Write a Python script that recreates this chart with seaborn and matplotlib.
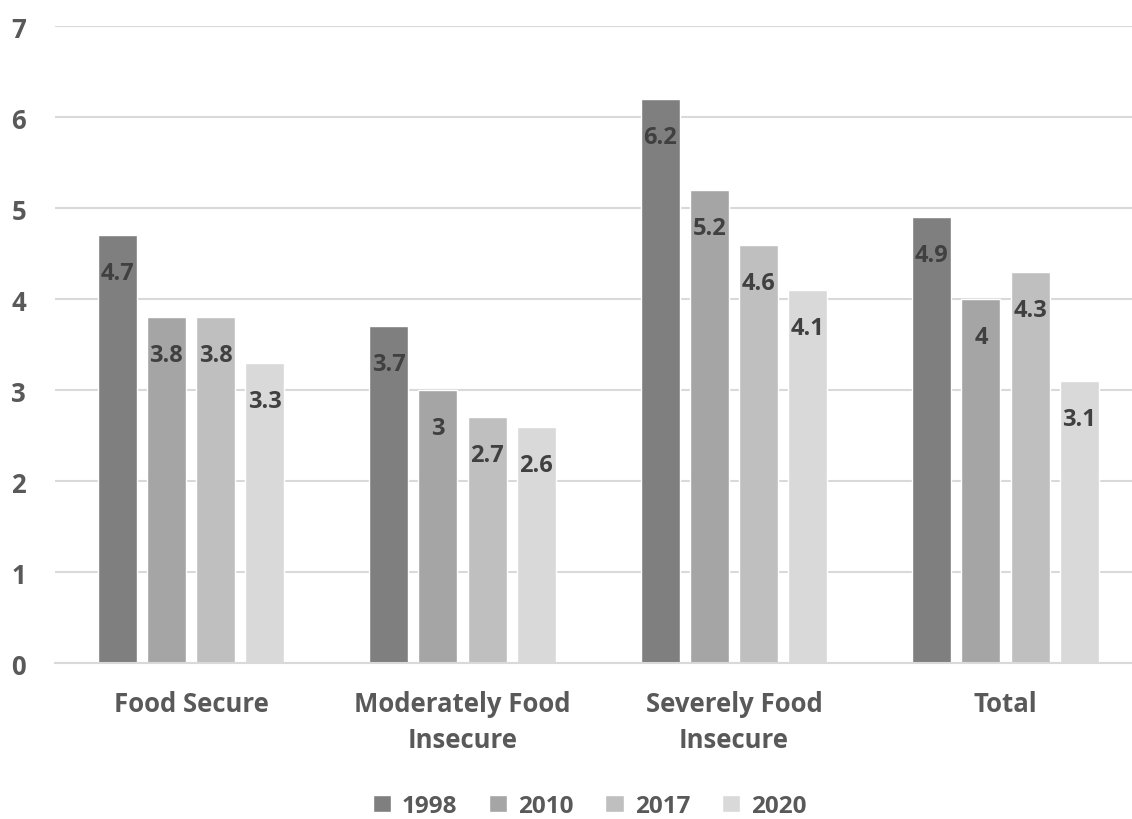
import matplotlib
matplotlib.use("Agg")
import matplotlib.pyplot as plt
import seaborn as sns
import pandas as pd

categories = ["Food Secure", "Moderately Food\nInsecure", "Severely Food\nInsecure", "Total"]
years = ["1998", "2010", "2017", "2020"]
values_1998 = [4.7, 3.7, 6.2, 4.9]
values_2010 = [3.8, 3.0, 5.2, 4.0]
values_2017 = [3.8, 2.7, 4.6, 4.3]
values_2020 = [3.3, 2.6, 4.1, 3.1]
value_labels = {
    "1998": ["4.7", "3.7", "6.2", "4.9"],
    "2010": ["3.8", "3", "5.2", "4"],
    "2017": ["3.8", "2.7", "4.6", "4.3"],
    "2020": ["3.3", "2.6", "4.1", "3.1"],
}
palette = ["#7f7f7f", "#a5a5a5", "#bfbfbf", "#d9d9d9"]

series = [values_1998, values_2010, values_2017, values_2020]
df = pd.DataFrame(
    [(c, y, v) for y, vals in zip(years, series) for c, v in zip(categories, vals)],
    columns=["category", "year", "value"],
)

sns.set_theme(style="white")
plt.rcParams["font.family"] = ["Open Sans", "DejaVu Sans"]

fig = plt.figure(figsize=(11.32, 8.2), dpi=100)
# plot area runs off the right edge so the gridlines reach the border
ax = fig.add_axes([0.0488, 0.190, 0.9594, 0.777])

sns.barplot(data=df, x="category", y="value", hue="year", palette=palette,
            width=0.725, gap=0.207, ax=ax, legend=True, saturation=1, errorbar=None)

for container, yr in zip(ax.containers, years):
    ax.bar_label(container, labels=value_labels[yr], padding=-36,
                 fontsize=17, fontweight="bold", color="#404040")

ax.set_ylim(0, 7)
ax.set_yticks(range(0, 8))
ax.set_xlim(-0.5, 3.5)
ax.yaxis.grid(True, color="#d9d9d9", linewidth=1.5)
ax.set_axisbelow(True)
for s in ["top", "right", "left"]:
    ax.spines[s].set_visible(False)
ax.spines["bottom"].set_color("#d9d9d9")
ax.spines["bottom"].set_linewidth(1.5)
ax.tick_params(axis="both", length=0, labelsize=18.5, labelcolor="#595959")
ax.tick_params(axis="y", pad=21)
ax.tick_params(axis="x", pad=19)
for lab in ax.get_xticklabels() + ax.get_yticklabels():
    lab.set_fontweight("bold")
for lab in ax.get_xticklabels():
    lab.set_linespacing(1.45)
ax.set_xlabel("")
ax.set_ylabel("")

leg = ax.legend(loc="center", bbox_to_anchor=(0.492, -0.224), ncol=4, frameon=False,
                handlelength=0.75, handleheight=0.75, handletextpad=0.45, columnspacing=1.3,
                borderpad=0.2, prop={"weight": "bold", "size": 17.5})
for t in leg.get_texts():
    t.set_color("#595959")

fig.savefig("out.png", dpi=100, facecolor="white")
